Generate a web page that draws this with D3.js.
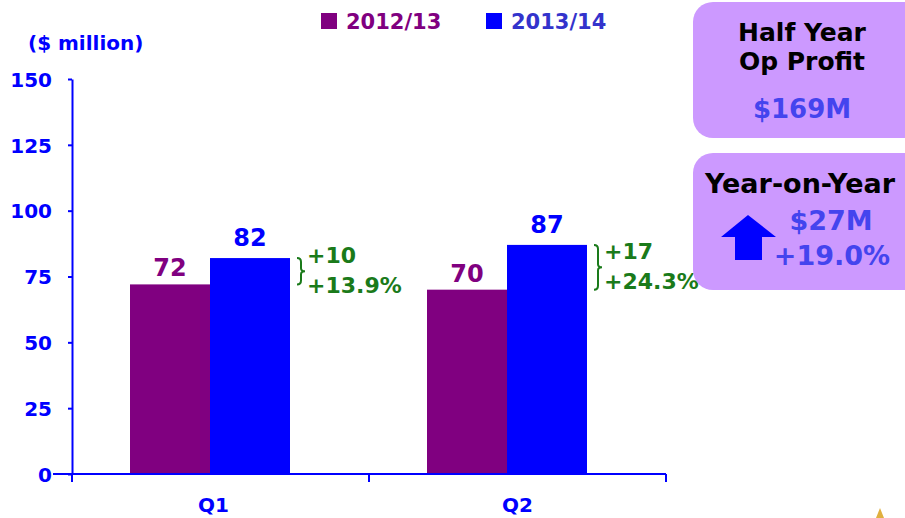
<!DOCTYPE html>
<html>
<head>
	<meta charset="utf-8">
	<title>Op Profit</title>
	<script src="https://cdn.jsdelivr.net/npm/d3@7"></script>
	<style>
		body { margin: 0; background: #fff; font-family: "DejaVu Sans", Verdana, sans-serif; }
		svg text { font-weight: bold; }
	</style>
</head>
<body>
	<div id="chart"></div>
	<script>

		// data
		const quarters = ["Q1", "Q2"];
		const seriesNames = ["2012/13", "2013/14"];
		const values2012 = [72, 70];
		const values2013 = [82, 87];
		const changeAbs = ["+10", "+17"];
		const changePct = ["+13.9%", "+24.3%"];
		const yTicks = [0, 25, 50, 75, 100, 125, 150];
		const summaryTitle = ["Half Year", "Op Profit"];
		const summaryValue = "$169M";
		const yoyTitle = "Year-on-Year";
		const yoyValues = ["$27M", "+19.0%"];

		const width = 905, height = 518;
		const colors = ["#800080", "#0000ff"];
		const legendColors = ["#800080", "#3333cc"];
		const green = "#1a7a1a";
		const axisBlue = "#0000ff";
		const font = "'DejaVu Sans', Verdana, sans-serif";

		const svg = d3.select("#chart").append("svg")
			.attr("width", width)
			.attr("height", height)
			.attr("font-family", font);

		const x0 = d3.scaleBand().domain(quarters).range([72, 666]);
		const x1 = d3.scaleBand().domain(seriesNames).range([58, 218]);
		const y = d3.scaleLinear().domain([0, 150]).range([474, 79]);

		const series = [values2012, values2013];

		// y axis
		const yAxis = svg.append("g")
			.attr("transform", "translate(72,0)")
			.call(d3.axisLeft(y).tickValues(yTicks).tickSize(4).tickPadding(16).tickSizeOuter(0))
			.attr("font-family", font)
			.attr("font-size", 20);
		yAxis.select(".domain").attr("stroke", axisBlue).attr("stroke-width", 2);
		yAxis.selectAll(".tick line").attr("stroke", axisBlue).attr("stroke-width", 2);
		yAxis.selectAll(".tick text")
			.attr("fill", axisBlue)
			.attr("dy", "0.36em");

		svg.append("text")
			.attr("x", 28).attr("y", 50)
			.attr("fill", axisBlue)
			.style("font-size", "20px")
			.text("($ million)");

		// bars
		quarters.forEach((q, i) => {
			series.forEach((s, j) => {
				svg.append("rect")
					.attr("x", x0(q) + x1(seriesNames[j]))
					.attr("y", y(s[i]))
					.attr("width", x1.bandwidth())
					.attr("height", y(0) - y(s[i]))
					.attr("fill", colors[j]);
				svg.append("text")
					.attr("x", x0(q) + x1(seriesNames[j]) + x1.bandwidth() / 2)
					.attr("y", y(s[i]) - (j === 0 ? 8 : 12))
					.attr("text-anchor", "middle")
					.attr("fill", colors[j])
					.style("font-size", "24px")
					.text(s[i]);
			});

			// brace + change labels
			const bx = x0(q) + x1(seriesNames[1]) + x1.bandwidth() + 7;
			const yTop = y(values2013[i]), yBot = y(values2012[i]);
			const ym = (yTop + yBot) / 2;
			svg.append("path")
				.attr("d", `M${bx},${yTop} q4,0 4,4 L${bx + 4},${ym - 3} q0,3 4,3 q-4,0 -4,3 L${bx + 4},${yBot - 4} q0,4 -4,4`)
				.attr("fill", "none")
				.attr("stroke", green)
				.attr("stroke-width", 2);
			svg.append("text")
				.attr("x", bx + 10).attr("y", ym - 8)
				.attr("fill", green)
				.style("font-size", "22px")
				.text(changeAbs[i]);
			svg.append("text")
				.attr("x", bx + 10).attr("y", ym + 22)
				.attr("fill", green)
				.style("font-size", "22px")
				.text(changePct[i]);
		});

		// x axis
		const xAxis = svg.append("g")
			.attr("transform", `translate(0,${y(0)})`);
		xAxis.append("line")
			.attr("x1", 53).attr("x2", 666)
			.attr("stroke", axisBlue).attr("stroke-width", 2);
		xAxis.selectAll(".sep")
			.data([72, x0("Q2"), 666])
			.join("line")
			.attr("x1", d => d).attr("x2", d => d)
			.attr("y1", 0).attr("y2", 8)
			.attr("stroke", axisBlue).attr("stroke-width", 2);
		const labelNudge = [-7, 0];
		xAxis.selectAll(".qlabel")
			.data(quarters)
			.join("text")
			.attr("x", (d, i) => x0(d) + x0.bandwidth() / 2 + labelNudge[i])
			.attr("y", 38)
			.attr("text-anchor", "middle")
			.attr("fill", axisBlue)
			.style("font-size", "20px")
			.text(d => d);

		// legend
		const legendX = [321, 486];
		seriesNames.forEach((name, j) => {
			svg.append("rect")
				.attr("x", legendX[j]).attr("y", 13)
				.attr("width", 16).attr("height", 16)
				.attr("fill", colors[j]);
			svg.append("text")
				.attr("x", legendX[j] + 25).attr("y", 29)
				.attr("fill", legendColors[j])
				.style("font-size", "21px")
				.text(name);
		});

		// summary boxes
		svg.append("rect")
			.attr("x", 693).attr("y", 2)
			.attr("width", 230).attr("height", 136)
			.attr("rx", 20)
			.attr("fill", "#cc99ff");
		summaryTitle.forEach((t, k) => {
			svg.append("text")
				.attr("x", 802).attr("y", 41 + k * 29)
				.attr("text-anchor", "middle")
				.attr("fill", "#000")
				.style("font-size", "25px")
				.text(t);
		});
		svg.append("text")
			.attr("x", 802).attr("y", 118)
			.attr("text-anchor", "middle")
			.attr("fill", "#4444ee")
			.style("font-size", "26px")
			.text(summaryValue);

		svg.append("rect")
			.attr("x", 693).attr("y", 153)
			.attr("width", 230).attr("height", 137)
			.attr("rx", 20)
			.attr("fill", "#cc99ff");
		svg.append("text")
			.attr("x", 800).attr("y", 193)
			.attr("text-anchor", "middle")
			.attr("fill", "#000")
			.style("font-size", "27px")
			.text(yoyTitle);
		svg.append("path")
			.attr("d", "M721,237 L748,215 L776,237 L762,237 L762,260 L735,260 L735,237 Z")
			.attr("fill", "#0000ff");
		svg.append("text")
			.attr("x", 831).attr("y", 230)
			.attr("text-anchor", "middle")
			.attr("fill", "#4444ee")
			.style("font-size", "27px")
			.text(yoyValues[0]);
		svg.append("text")
			.attr("x", 832).attr("y", 265)
			.attr("text-anchor", "middle")
			.attr("fill", "#4444ee")
			.style("font-size", "27px")
			.text(yoyValues[1]);

		// small corner mark
		svg.append("path")
			.attr("d", "M876,518 L880,508 L884,518 Z")
			.attr("fill", "#e0b040");

	</script>
</body>
</html>
